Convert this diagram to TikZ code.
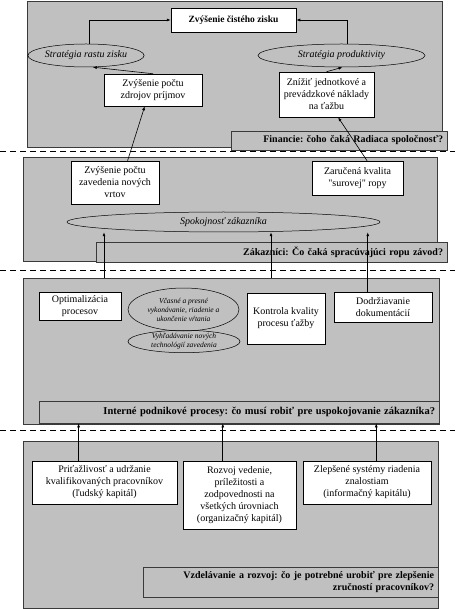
\documentclass[tikz,border=0pt]{standalone}
\usepackage{fontspec}
\setmainfont{Liberation Serif}
\usetikzlibrary{shapes.geometric, arrows.meta}
\definecolor{panelgray}{HTML}{C0C0C0}
\definecolor{paneledge}{HTML}{3A3A3A}
\frenchspacing

\begin{document}
\begin{tikzpicture}[x=1pt, y=-1pt, >={Latex[length=4pt,width=3pt]},
    panel/.style={fill=panelgray, draw=paneledge, line width=0.9pt},
    whitebox/.style={draw=black, fill=white, line width=0.5pt, align=center,
      inner sep=1pt, font=\fontsize{10}{12}\selectfont},
    oval/.style={ellipse, draw=black, line width=0.5pt, align=center,
      inner sep=0pt, font=\itshape\fontsize{10}{12}\selectfont},
    question/.style={draw=paneledge, fill=panelgray, line width=0.8pt,
      align=right, inner xsep=4pt, inner ysep=1pt,
      font=\bfseries\fontsize{10}{12}\selectfont},
    sep/.style={dash pattern=on 6pt off 4pt, line width=1pt},
    link/.style={->, line width=0.6pt}]
  \useasboundingbox (0,0) rectangle (455,609);

  % Panels
  \draw[panel] (27,1) rectangle (442,147);
  \draw[panel] (23,157) rectangle (437,261);
  \draw[panel] (23,278) rectangle (439,424);
  \draw[panel] (23,441) rectangle (438,608);
  % Separators
  \draw[sep] (0,152) -- (455,152);
  \draw[sep] (0,270) -- (455,270);
  \draw[sep] (0,430) -- (455,430);

  % Financie
  \node[whitebox, minimum width=125pt, minimum height=24pt,
        font=\bfseries\fontsize{9.5}{12}\selectfont] (zisk) at (233.5,20)
        {Zvýšenie čistého zisku};
  \node[oval, minimum width=88pt, minimum height=23pt] (rast) at (86,55.5)
        {Stratégia rastu zisku};
  \node[oval, minimum width=167pt, minimum height=23pt] (prod) at (341.5,55.5)
        {Stratégia produktivity};
  \node[whitebox, minimum width=98pt, minimum height=32pt] (zdroje) at (153,90)
        {Zvýšenie počtu\\zdrojov príjmov};
  \node[whitebox, minimum width=95pt, minimum height=45pt] (naklady) at (326.5,94.5)
        {Znížiť jednotkové a\\prevádzkové náklady\\na ťažbu};
  \node[question, text width=208pt, minimum height=19pt] (fin) at (339,140.5)
        {Financie: čoho čaká Radiaca spoločnosť?};

  % Zakaznici
  \node[whitebox, minimum width=88pt, minimum height=43pt] (vrty) at (115,182.5)
        {Zvýšenie počtu\\zavedenia nových\\vrtov};
  \node[whitebox, minimum width=91pt, minimum height=34pt] (kvalita) at (357.5,178)
        {Zaručená kvalita\\\textquotedbl surovej\textquotedbl{} ropy};
  \node[oval, minimum width=313pt, minimum height=20pt] (spokojnost) at (223.5,222)
        {Spokojnosť zákazníka};
  \node[question, text width=343pt, minimum height=20pt] (zak) at (271.5,252)
        {Zákazníci: Čo čaká spracúvajúci ropu závod?};

  % Interne procesy
  \node[whitebox, minimum width=82pt, minimum height=28pt] (optim) at (80,306)
        {Optimalizácia\\procesov};
  \node[oval, minimum width=111pt, minimum height=43pt,
        font=\itshape\fontsize{7.5}{9}\selectfont] (vcasne) at (183.5,309.5)
        {Včasné a presné\\vykonávanie, riadenie a\\ukončenie vŕtania};
  \node[oval, minimum width=112pt, minimum height=21pt,
        font=\itshape\fontsize{7.5}{9}\selectfont] (vyhlad) at (184,341.5)
        {Vyhľadávanie nových\\technológií zavedenia};
  \node[whitebox, minimum width=78pt, minimum height=51pt] (kontrola) at (286,318.5)
        {Kontrola kvality\\procesu ťažby};
  \node[whitebox, minimum width=98pt, minimum height=30pt] (dokum) at (383,307)
        {Dodržiavanie\\dokumentácií};
  \node[question, text width=392pt, minimum height=22pt,
        font=\bfseries\fontsize{10.5}{12}\selectfont] (int) at (239,412)
        {Interné podnikové procesy: čo musí robiť pre uspokojovanie zákazníka?};

  % Vzdelavanie
  \node[whitebox, minimum width=145pt, minimum height=43pt] (ludia) at (104.5,482.5)
        {Priťažlivosť a udržanie\\kvalifikovaných pracovníkov\\(ľudský kapitál)};
  \node[whitebox, minimum width=113pt, minimum height=68pt] (rozvoj) at (239.5,495)
        {Rozvoj vedenie,\\príležitosti a\\zodpovednosti na\\všetkých úrovniach\\(organizačný kapitál)};
  \node[whitebox, minimum width=128pt, minimum height=43pt] (info) at (367,482.5)
        {Zlepšené systémy riadenia\\znalostiam\\(informačný kapitálu)};
  \node[question, text width=287pt, minimum height=30pt] (vzdel) at (290.5,582)
        {Vzdelávanie a rozvoj: čo je potrebné urobiť pre zlepšenie\\zručností pracovníkov?};

  % Connectors
  \coordinate (o1) at (104,278);
  \coordinate (o2) at (271,278);
  \draw[link] (rast.74) |- (zisk.west);
  \draw[link] (prod.64) |- (zisk.east);
  \draw[link] (zdroje.north) -- (rast.-60);
  \draw[link] (naklady.north) -- (prod.-85);
  \draw[link] (vrty.60) -- (zdroje.-117);
  \draw[link] (kvalita.61) -- (naklady.-63);
  \draw[link] (o1) -- (o1 |- spokojnost.south);
  \draw[link] (o2) -- (o2 |- spokojnost.south);
  \draw[link] (dokum.135) -- (dokum.135 |- spokojnost.south);
  \draw[link] (ludia.140) -- (ludia.140 |- int.south);
  \draw[link] (rozvoj.116) -- (rozvoj.116 |- int.south);
  \draw[link] (info.67) -- (info.67 |- int.south);
\end{tikzpicture}
\end{document}
